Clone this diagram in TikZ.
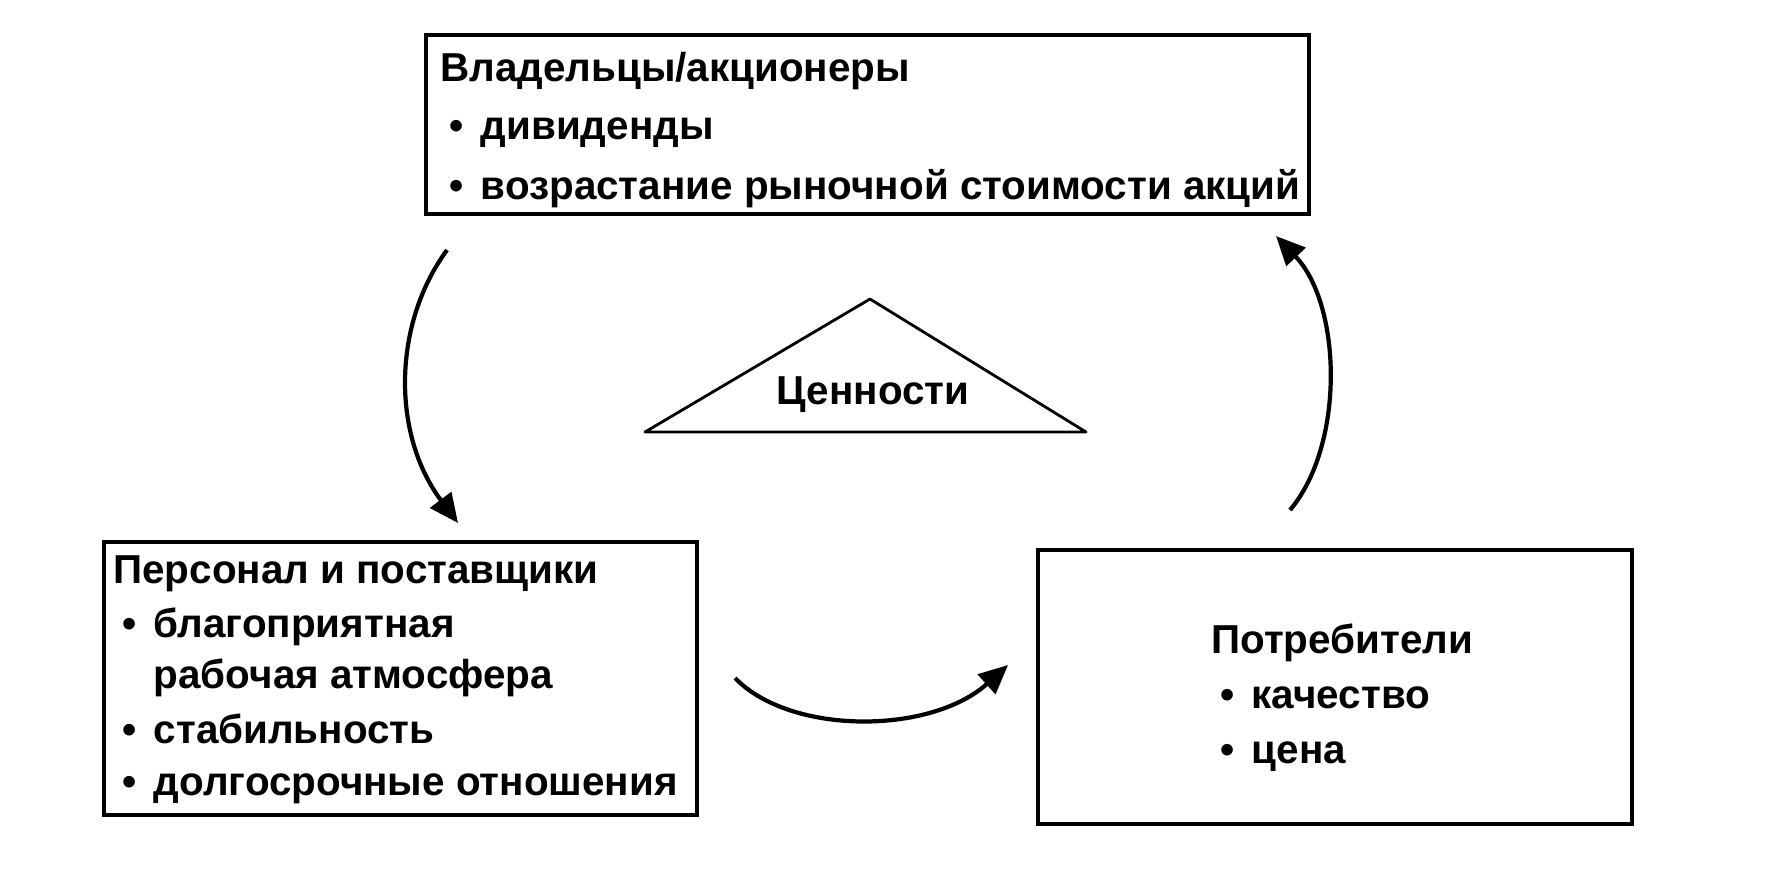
\documentclass[tikz,border=0pt]{standalone}
\usepackage{fontspec}
\setmainfont{Liberation Sans}
\usetikzlibrary{arrows.meta}

\newcommand{\bul}{\makebox[23pt][l]{\hspace{5pt}•}}

\begin{document}
\begin{tikzpicture}[x=0.02cm,y=-0.02cm,
  box/.style={draw,line width=2pt,inner sep=0pt},
  list/.style={align=left,inner sep=0pt,anchor=north west,font=\bfseries\fontsize{23}{33}\selectfont},
  flow/.style={line width=2.4pt,arrows={-Triangle[length=0.58cm,width=0.52cm]}}]

\useasboundingbox (0,0) rectangle (1770,870);

% the three groups
\node[box,minimum width=17.66cm,minimum height=3.58cm] (owners) at (867.5,124.5) {};
\node[list] (ownerstext) at (440,52)
  {Владельцы/акционеры\\
   \bul дивиденды\\[1pt]
   \bul возрастание рыночной стоимости акций};

\node[box,minimum width=11.86cm,minimum height=5.46cm] (staff) at (400.5,678.5) {};
\node[list] (stafftext) at (113,555)
  {Персонал и поставщики\\[-2pt]
   \bul благоприятная\\[-4pt]
   \hspace{23pt}рабочая атмосфера\\[-2pt]
   \bul стабильность\\[-3pt]
   \bul долгосрочные отношения};

\node[box,minimum width=11.88cm,minimum height=5.48cm] (clients) at (1335,687) {};
\node[list,font=\bfseries\fontsize{23}{31.5}\selectfont] (clientstext) at (1211,623)
  {Потребители\\
   \bul качество\\
   \bul цена};

% values in the middle
\draw[line width=1.6pt,line join=round] (645,432) -- (870,299) -- (1086,432) -- cycle;
\node[font=\bfseries\fontsize{23}{33}\selectfont] (values) at (873,395) {Ценности};

\coordinate (v1) at (447,250);
\coordinate (v2) at (458,523);
\coordinate (v3) at (735,678);
\coordinate (v4) at (1008,665);
\coordinate (v5) at (1290,510);
\coordinate (v6) at (1276,236);

\draw[flow] (v1) .. controls (392,325) and (392,435) .. (v2);
\draw[flow] (v3) .. controls (790,735) and (930,735) .. (v4);
\draw[flow] (v5) .. controls (1345,445) and (1342,305) .. (v6);

\end{tikzpicture}
\end{document}
